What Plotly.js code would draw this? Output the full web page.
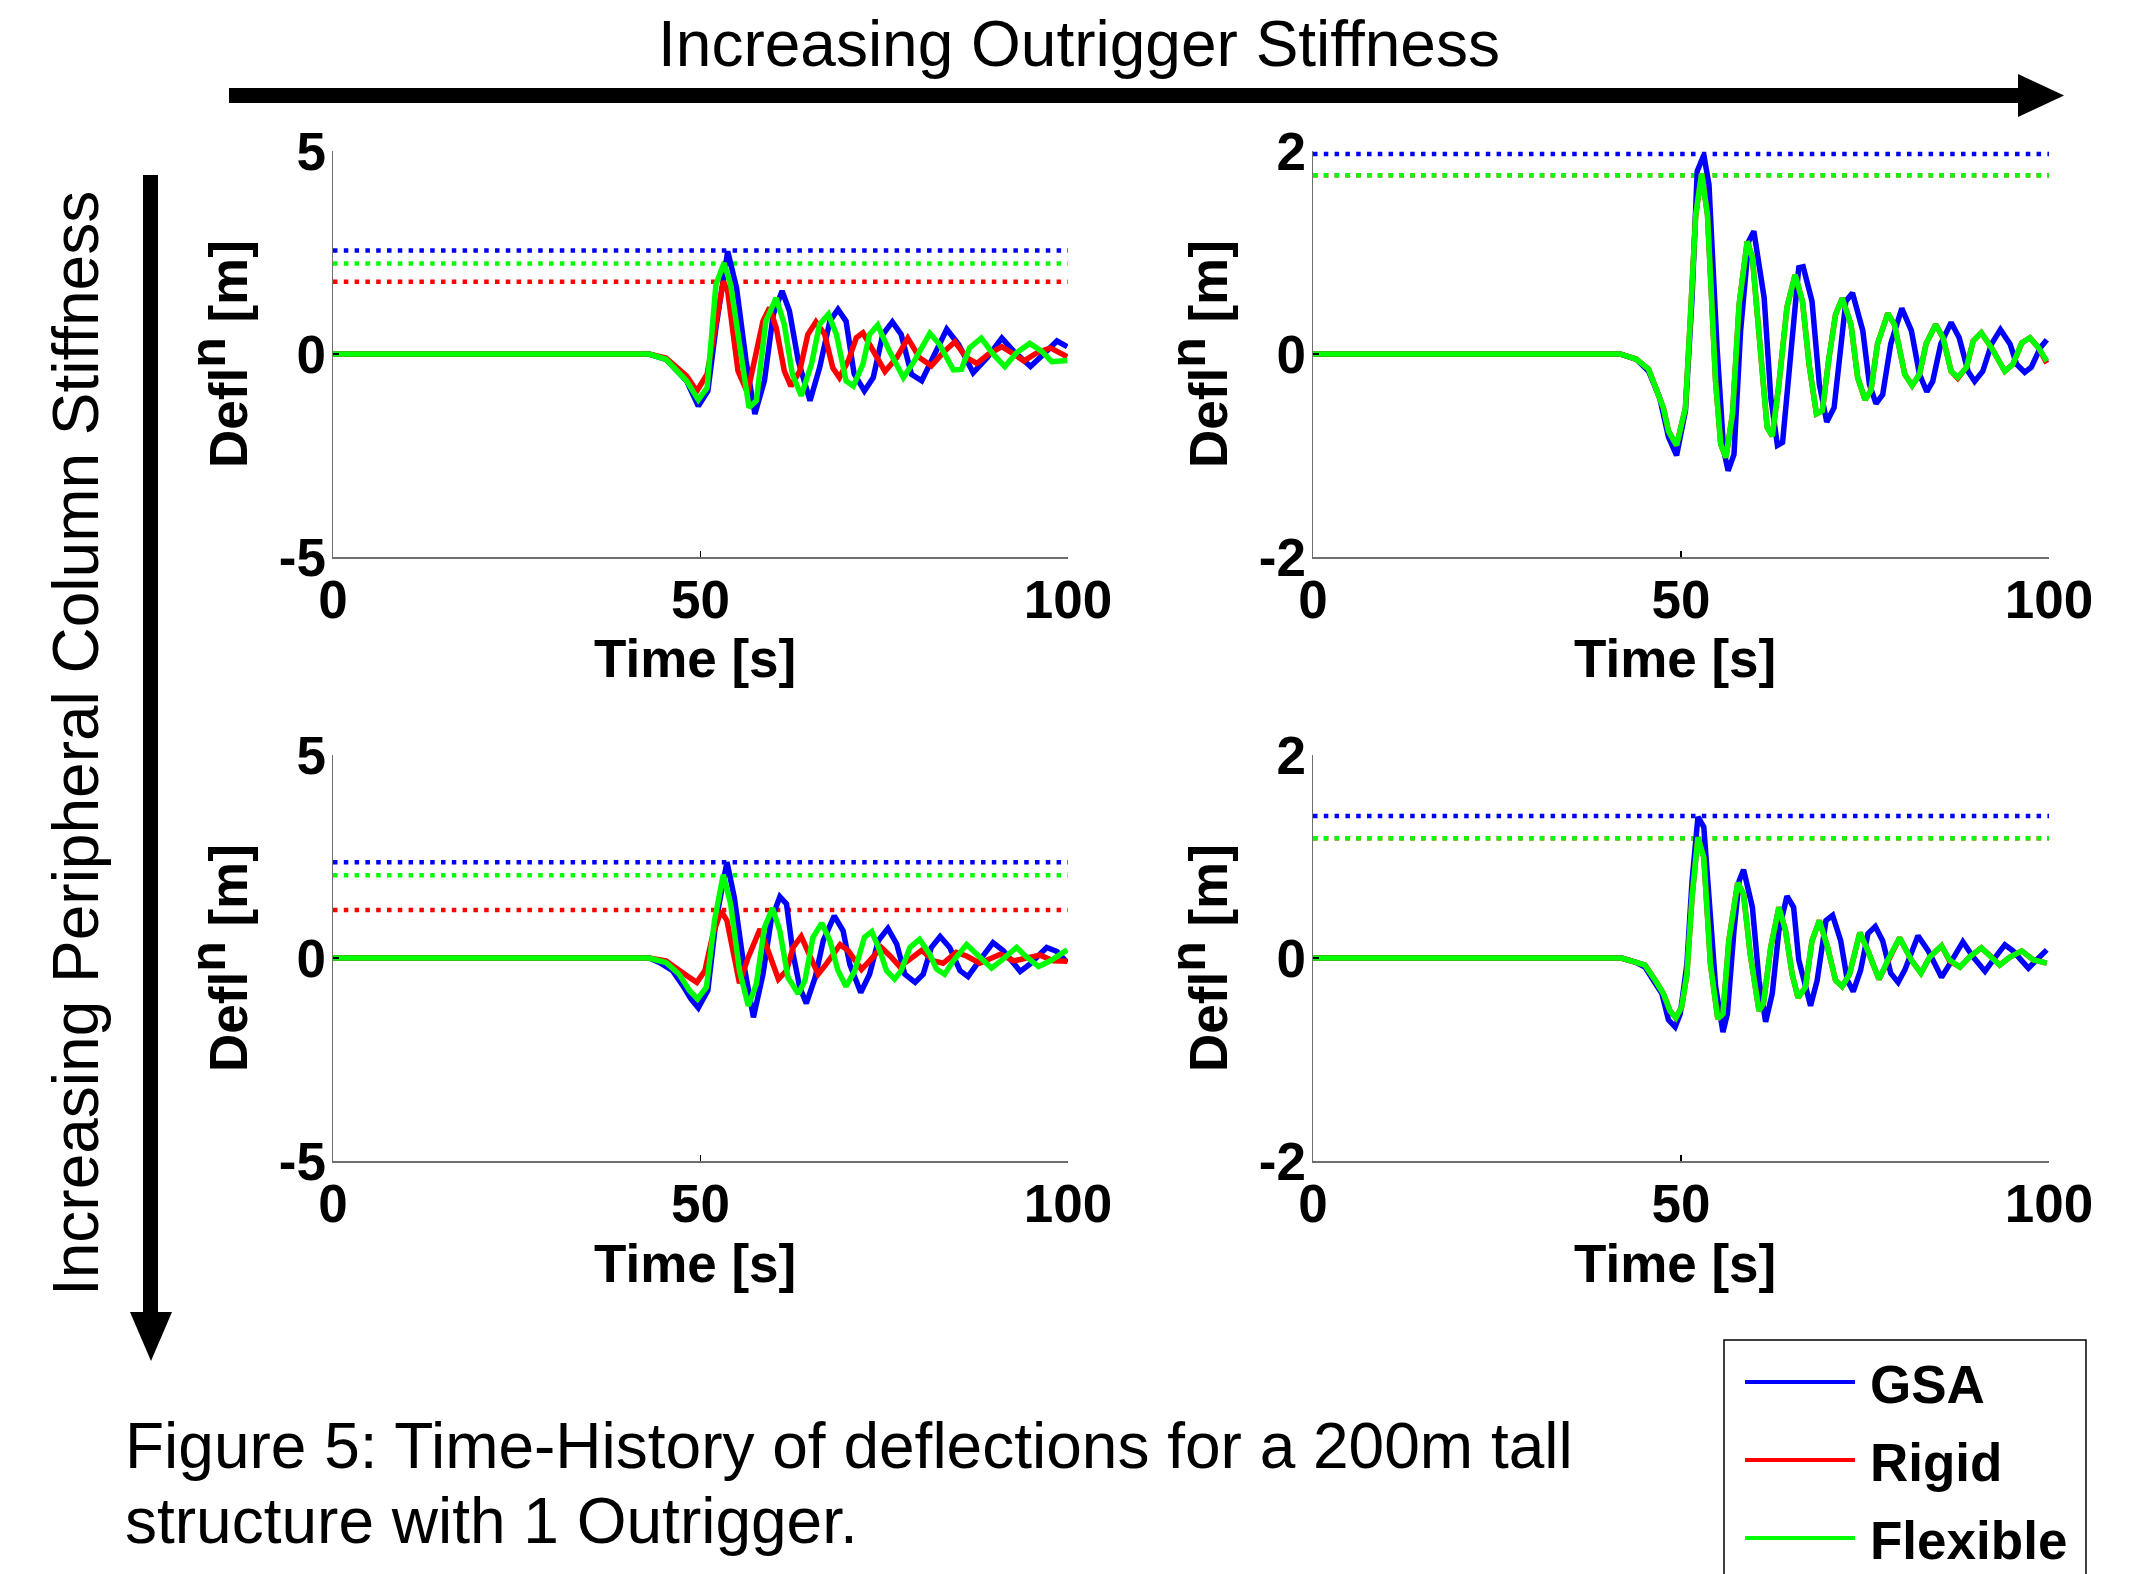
<!DOCTYPE html>
<html><head><meta charset="utf-8">
<script src="https://cdn.plot.ly/plotly-3.0.1.min.js"></script>
<style>html,body{margin:0;padding:0;background:#fff;overflow:hidden;} #chart{width:2139px;height:1574px;}</style>
</head><body><div id="chart"></div>
<script>
// ---------- DATA ----------
const seriesNames = ['GSA', 'Rigid', 'Flexible'];
const seriesColors = ['#0000FF', '#FF0000', '#00FF00'];
const xTickVals = [0, 50, 100];
const xTickText = ['0', '50', '100'];
const yTickValsA = [-5, 0, 5];
const yTickTextA = ['-5', '0', '5'];
const yTickValsB = [-2, 0, 2];
const yTickTextB = ['-2', '0', '2'];
const xTitle = 'Time [s]';
const yTitle = 'Defl<sup><span style="font-size:50px">n</span></sup> [m]';
const topHeading = 'Increasing Outrigger Stiffness';
const sideHeading = 'Increasing Peripheral Column Stiffness';
const captionLines = ['Figure 5: Time-History of deflections for a 200m tall', 'structure with 1 Outrigger.'];

// peak (dotted) levels per panel: [TL, TR, BL, BR]
const peakGsa = [2.55, 1.97, 2.36, 1.40];
const peakRigid = [1.78, 1.76, 1.18, 1.18];
const peakFlex = [2.23, 1.76, 2.04, 1.18];

// Top-left panel
const tGsaTL = [0, 43, 45.3, 48.1, 49.7, 51.0, 52.1, 53.7, 54.9, 56.2, 57.4, 58.7, 59.9, 61.1, 62.1, 63.3, 64.9, 66.2, 67.6, 68.7, 69.8, 70.9, 72.3, 73.5, 74.8, 76.1, 77.3, 78.7, 80.1, 81.7, 83.5, 85.1, 87.1, 89.0, 91.0, 92.6, 94.9, 96.7, 98.5, 99.9];
const dGsaTL = [0, 0, -0.13, -0.66, -1.28, -0.91, 0.65, 2.53, 1.63, -0.17, -1.48, -0.66, 0.98, 1.55, 1.06, -0.17, -1.15, -0.34, 0.81, 1.10, 0.81, -0.49, -0.91, -0.58, 0.48, 0.79, 0.48, -0.50, -0.66, -0.09, 0.61, 0.24, -0.46, -0.09, 0.39, 0.07, -0.31, 0, 0.32, 0.18];
const tRigidTL = [0, 43, 45.3, 48.1, 49.5, 50.9, 52.0, 53.1, 53.7, 55.1, 56.4, 57.6, 58.5, 59.4, 60.3, 61.4, 62.3, 63.5, 64.6, 65.7, 66.9, 68.0, 68.9, 70.1, 71.2, 72.1, 73.5, 75.1, 76.7, 78.2, 79.8, 81.4, 83.0, 84.6, 86.2, 87.6, 89.2, 91.0, 92.6, 94.0, 95.8, 97.6, 99.9];
const dRigidTL = [0, 0, -0.1, -0.54, -0.91, -0.5, 0.65, 1.79, 1.55, -0.42, -0.95, 0.07, 0.81, 1.14, 0.65, -0.42, -0.79, -0.42, 0.48, 0.79, 0.48, -0.34, -0.58, -0.17, 0.40, 0.52, 0.07, -0.43, -0.09, 0.39, -0.09, -0.29, 0.03, 0.30, -0.09, -0.23, 0, 0.18, 0, -0.17, 0.03, 0.15, -0.07];
const tFlexTL = [0, 43, 45.3, 48.1, 49.7, 50.9, 52.1, 53.2, 54.1, 55.3, 56.6, 57.6, 58.9, 60.3, 61.4, 62.5, 63.7, 65.1, 66.2, 67.4, 68.5, 69.8, 70.8, 72.1, 73.0, 74.1, 75.7, 77.6, 79.1, 81.2, 82.5, 84.4, 85.5, 86.6, 88.2, 89.8, 91.4, 93.0, 94.8, 96.4, 97.8, 99.9];
const dFlexTL = [0, 0, -0.13, -0.66, -1.13, -0.83, 1.71, 2.24, 1.71, 0.15, -1.32, -1.15, 0.81, 1.38, 0.73, -0.50, -1.03, -0.25, 0.73, 0.98, 0.48, -0.66, -0.79, -0.25, 0.48, 0.71, 0.07, -0.58, -0.17, 0.51, 0.24, -0.39, -0.38, 0.15, 0.39, 0, -0.31, 0.03, 0.26, 0.07, -0.19, -0.16];

// Top-right panel
const tGsaTR = [0, 41.7, 43.9, 45.6, 47.1, 48.3, 49.4, 50.6, 51.5, 52.2, 53.1, 53.8, 54.9, 55.8, 56.4, 57.2, 58.1, 59.2, 59.9, 61.3, 62.2, 63.1, 63.8, 64.9, 66.0, 66.6, 67.8, 68.8, 69.8, 70.8, 71.5, 72.4, 73.3, 74.7, 75.6, 76.5, 77.4, 78.5, 80.0, 81.3, 82.4, 83.4, 84.2, 85.3, 86.7, 87.8, 89.0, 89.9, 91.0, 92.2, 93.4, 94.7, 95.6, 96.7, 97.6, 98.8, 99.7];
const dGsaTR = [0, 0, -0.05, -0.17, -0.43, -0.82, -1.0, -0.56, 0.55, 1.80, 1.96, 1.67, 0.06, -0.95, -1.15, -0.99, 0.23, 1.11, 1.21, 0.55, -0.43, -0.90, -0.87, 0.06, 0.85, 0.86, 0.52, -0.30, -0.67, -0.53, -0.04, 0.52, 0.60, 0.23, -0.30, -0.49, -0.40, 0.10, 0.45, 0.23, -0.20, -0.37, -0.27, 0.10, 0.31, 0.16, -0.17, -0.27, -0.17, 0.10, 0.24, 0.10, -0.10, -0.18, -0.13, 0.06, 0.14];
const tRigidTR = [0, 41.7, 43.9, 45.6, 47.6, 48.3, 49.4, 50.6, 51.3, 52.0, 52.8, 53.6, 54.7, 55.4, 56.1, 57.0, 57.9, 59.0, 59.7, 60.8, 61.7, 62.4, 63.3, 64.4, 65.5, 66.5, 67.4, 68.4, 69.2, 70.1, 71.0, 71.9, 73.1, 74.0, 75.0, 75.8, 76.7, 78.1, 79.0, 80.4, 81.4, 82.4, 83.3, 84.6, 85.6, 86.7, 87.6, 88.8, 89.7, 90.8, 92.2, 94.0, 95.1, 96.3, 97.4, 98.6, 99.7];
const dRigidTR = [0, 0, -0.05, -0.15, -0.53, -0.76, -0.90, -0.53, 0.39, 1.37, 1.78, 1.37, -0.27, -0.89, -1.02, -0.59, 0.49, 1.11, 0.95, 0.06, -0.72, -0.81, -0.30, 0.46, 0.78, 0.52, -0.10, -0.59, -0.56, -0.04, 0.39, 0.55, 0.29, -0.23, -0.45, -0.36, 0.10, 0.40, 0.29, -0.20, -0.31, -0.20, 0.10, 0.29, 0.16, -0.17, -0.24, -0.13, 0.13, 0.21, 0.06, -0.17, -0.10, 0.11, 0.16, 0.06, -0.09];
const tFlexTR = [0, 41.7, 43.9, 45.6, 47.6, 48.3, 49.4, 50.6, 51.3, 52.0, 52.8, 53.6, 54.7, 55.4, 56.1, 57.0, 57.9, 59.0, 59.7, 60.8, 61.7, 62.4, 63.3, 64.4, 65.5, 66.5, 67.4, 68.4, 69.2, 70.1, 71.0, 71.9, 73.1, 74.0, 75.0, 75.8, 76.7, 78.1, 79.0, 80.4, 81.4, 82.4, 83.3, 84.6, 85.6, 86.7, 87.6, 88.8, 89.7, 90.8, 92.2, 94.0, 95.1, 96.3, 97.4, 98.6, 99.7];
const dFlexTR = [0, 0, -0.05, -0.15, -0.53, -0.76, -0.90, -0.53, 0.39, 1.37, 1.78, 1.37, -0.27, -0.89, -1.02, -0.59, 0.49, 1.11, 0.95, 0.06, -0.72, -0.81, -0.30, 0.46, 0.78, 0.52, -0.10, -0.59, -0.56, -0.04, 0.39, 0.55, 0.29, -0.23, -0.45, -0.36, 0.10, 0.40, 0.29, -0.20, -0.31, -0.20, 0.10, 0.29, 0.16, -0.17, -0.23, -0.13, 0.13, 0.21, 0.06, -0.17, -0.10, 0.11, 0.16, 0.06, -0.07];

// Bottom-left panel
const tGsaBL = [0, 43, 44.4, 46.2, 47.6, 48.7, 49.7, 51.0, 52.1, 53.6, 54.6, 55.8, 57.2, 58.5, 59.6, 60.8, 61.7, 62.6, 63.5, 64.4, 65.6, 66.7, 68.2, 69.4, 70.3, 71.8, 73.0, 74.2, 75.5, 76.7, 77.8, 79.2, 80.3, 81.4, 82.6, 83.9, 85.3, 86.4, 87.6, 89.8, 91.2, 93.5, 94.8, 97.1, 98.5, 99.9];
const dGsaBL = [0, 0, -0.11, -0.31, -0.68, -1.01, -1.23, -0.80, 0.92, 2.36, 1.49, -0.07, -1.46, -0.40, 0.92, 1.51, 1.33, 0.10, -0.72, -1.12, -0.48, 0.43, 1.04, 0.67, -0.15, -0.85, -0.40, 0.43, 0.73, 0.34, -0.40, -0.60, -0.40, 0.26, 0.53, 0.26, -0.31, -0.46, -0.15, 0.38, 0.18, -0.33, -0.15, 0.26, 0.16, -0.11];
const tRigidBL = [0, 43, 45.3, 46.7, 48.1, 49.5, 50.6, 51.7, 52.8, 53.6, 54.5, 55.3, 56.5, 58.1, 59.2, 60.6, 61.7, 62.6, 63.7, 64.6, 66.0, 67.1, 69.0, 70.1, 71.9, 73.0, 74.6, 75.8, 77.1, 78.2, 80.1, 81.7, 83.0, 84.8, 86.2, 88.0, 90.8, 92.6, 95.3, 96.2, 98.0, 99.9];
const dRigidBL = [0, 0, -0.07, -0.23, -0.43, -0.60, -0.31, 0.59, 1.16, 0.92, 0.02, -0.62, 0.02, 0.71, 0.18, -0.52, -0.31, 0.26, 0.53, 0.18, -0.40, -0.15, 0.33, 0.18, -0.28, -0.07, 0.26, 0.05, -0.21, -0.07, 0.19, -0.07, -0.13, 0.14, 0.05, -0.13, 0.09, -0.07, 0.05, 0.07, -0.07, -0.08];
const tFlexBL = [0, 43, 45.3, 47.1, 48.5, 49.6, 50.8, 51.9, 53.1, 54.1, 55.3, 56.5, 57.6, 58.7, 59.8, 60.8, 61.9, 63.3, 64.2, 65.3, 66.5, 67.6, 68.7, 69.8, 71.0, 72.3, 73.3, 74.4, 75.3, 76.4, 77.3, 78.5, 79.8, 81.2, 82.1, 83.2, 84.4, 86.2, 87.6, 89.6, 91.2, 93.0, 94.4, 96.0, 97.6, 99.9];
const dFlexBL = [0, 0, -0.11, -0.40, -0.80, -1.01, -0.72, 0.92, 2.05, 1.33, -0.31, -1.18, -0.64, 0.75, 1.23, 0.67, -0.48, -0.88, -0.56, 0.51, 0.86, 0.43, -0.31, -0.70, -0.31, 0.51, 0.65, 0.18, -0.31, -0.52, -0.31, 0.26, 0.46, 0.09, -0.27, -0.40, -0.07, 0.33, 0.09, -0.25, -0.02, 0.26, 0.02, -0.21, -0.07, 0.20];

// Bottom-right panel
const tGsaBR = [0, 41.9, 43.8, 45.1, 46.5, 47.4, 48.3, 49.2, 49.9, 50.8, 51.5, 52.3, 53.1, 53.8, 54.7, 55.7, 56.3, 57.2, 57.9, 58.5, 59.7, 60.6, 61.5, 62.4, 63.3, 64.4, 65.3, 66.0, 67.6, 68.5, 69.7, 70.6, 71.7, 72.6, 73.4, 74.4, 75.4, 76.4, 77.4, 78.5, 79.5, 80.4, 82.2, 83.6, 85.4, 86.5, 88.3, 89.7, 91.3, 92.4, 94.0, 95.1, 97.2, 98.3, 99.7];
const dGsaBR = [0, 0, -0.04, -0.09, -0.25, -0.35, -0.61, -0.68, -0.55, -0.06, 0.76, 1.39, 1.29, 0.60, -0.28, -0.73, -0.55, 0.27, 0.76, 0.87, 0.50, -0.22, -0.63, -0.35, 0.27, 0.61, 0.50, -0.02, -0.47, -0.22, 0.37, 0.42, 0.17, -0.22, -0.33, -0.12, 0.24, 0.31, 0.17, -0.15, -0.24, -0.12, 0.22, 0.07, -0.19, -0.06, 0.16, 0.01, -0.13, -0.02, 0.13, 0.07, -0.10, -0.02, 0.08];
const tRigidBR = [0, 41.9, 43.8, 45.1, 46.5, 47.6, 48.5, 49.3, 50.1, 50.8, 51.5, 52.3, 53.1, 54.0, 55.0, 55.7, 56.5, 57.7, 58.5, 59.4, 60.6, 61.2, 62.2, 63.3, 64.2, 65.1, 65.9, 66.9, 67.8, 68.8, 69.9, 71.0, 71.9, 72.9, 74.3, 75.4, 76.9, 78.1, 79.7, 81.3, 82.6, 83.8, 85.4, 86.5, 87.9, 89.2, 90.8, 92.2, 93.3, 94.7, 96.3, 97.9, 99.7];
const dRigidBR = [0, 0, -0.04, -0.07, -0.22, -0.35, -0.52, -0.59, -0.48, -0.16, 0.60, 1.19, 0.99, -0.06, -0.60, -0.55, 0.17, 0.74, 0.63, 0.04, -0.52, -0.45, 0.11, 0.50, 0.27, -0.16, -0.39, -0.29, 0.17, 0.37, 0.11, -0.22, -0.28, -0.16, 0.25, 0.07, -0.21, -0.03, 0.20, -0.02, -0.15, 0.01, 0.12, -0.03, -0.09, 0.01, 0.10, 0.01, -0.07, 0.01, 0.07, -0.02, -0.05];
const tFlexBR = [0, 41.9, 43.8, 45.1, 46.5, 47.6, 48.5, 49.3, 50.1, 50.8, 51.5, 52.3, 53.1, 54.0, 55.0, 55.7, 56.5, 57.7, 58.5, 59.4, 60.6, 61.2, 62.2, 63.3, 64.2, 65.1, 65.9, 66.9, 67.8, 68.8, 69.9, 71.0, 71.9, 72.9, 74.3, 75.4, 76.9, 78.1, 79.7, 81.3, 82.6, 83.8, 85.4, 86.5, 87.9, 89.2, 90.8, 92.2, 93.3, 94.7, 96.3, 97.9, 99.7];
const dFlexBR = [0, 0, -0.04, -0.07, -0.22, -0.35, -0.52, -0.59, -0.48, -0.16, 0.60, 1.19, 0.99, -0.06, -0.60, -0.55, 0.17, 0.74, 0.63, 0.04, -0.52, -0.45, 0.11, 0.50, 0.27, -0.16, -0.39, -0.29, 0.17, 0.37, 0.11, -0.22, -0.28, -0.16, 0.25, 0.07, -0.21, -0.02, 0.20, -0.02, -0.15, 0.01, 0.12, -0.02, -0.09, 0.01, 0.10, 0.01, -0.07, 0.01, 0.07, -0.02, -0.05];

// ---------- BUILD ----------
const W = 2139, H = 1574;
const FONT = 'Liberation Sans, Arial, Helvetica, sans-serif';
const px = v => v / W;
const py = v => 1 - v / H;

const panels = [
  {xa: 'x', ya: 'y', series: [[tGsaTL, dGsaTL], [tRigidTL, dRigidTL], [tFlexTL, dFlexTL]], p: 0},
  {xa: 'x2', ya: 'y2', series: [[tGsaTR, dGsaTR], [tRigidTR, dRigidTR], [tFlexTR, dFlexTR]], p: 1},
  {xa: 'x3', ya: 'y3', series: [[tGsaBL, dGsaBL], [tRigidBL, dRigidBL], [tFlexBL, dFlexBL]], p: 2},
  {xa: 'x4', ya: 'y4', series: [[tGsaBR, dGsaBR], [tRigidBR, dRigidBR], [tFlexBR, dFlexBR]], p: 3}
];

const traces = [];
panels.forEach(pn => {
  const peaks = [peakGsa[pn.p], peakRigid[pn.p], peakFlex[pn.p]];
  [0, 1, 2].forEach(i => {
    traces.push({
      type: 'scatter', mode: 'lines', x: [xTickVals[0], xTickVals[2]], y: [peaks[i], peaks[i]],
      xaxis: pn.xa, yaxis: pn.ya, showlegend: false, hoverinfo: 'skip',
      line: {color: seriesColors[i], width: 4.5, dash: '4.5px,6.3px'}
    });
  });
  [0, 1, 2].forEach(i => {
    traces.push({
      type: 'scatter', mode: 'lines', name: seriesNames[i],
      x: pn.series[i][0], y: pn.series[i][1],
      xaxis: pn.xa, yaxis: pn.ya, showlegend: false,
      line: {color: seriesColors[i], width: 5.5}
    });
  });
});

const tickFont = {family: FONT, size: 53, color: '#000', weight: 'bold'};
function xAxis(dom, anchor) {
  return {domain: dom, anchor: anchor, range: [0, 100], tickvals: xTickVals, ticktext: xTickText,
    showline: true, linecolor: '#6e6e6e', linewidth: 1.5, mirror: false, showgrid: false, zeroline: false,
    ticks: 'inside', ticklen: 6, tickwidth: 1.5, tickcolor: '#000', tickfont: tickFont, fixedrange: true,
    ticklabelstandoff: -4};
}
function yAxis(dom, anchor, rng, tv, tt) {
  return {domain: dom, anchor: anchor, range: rng, tickvals: tv, ticktext: tt,
    showline: true, linecolor: '#6e6e6e', linewidth: 1.5, mirror: false, showgrid: false, zeroline: false,
    ticks: 'inside', ticklen: 6, tickwidth: 1.5, tickcolor: '#000', tickfont: tickFont, fixedrange: true,
    ticklabelstandoff: -5};
}

const xL = [px(333), px(1068)], xR = [px(1313), px(2049)];
const yT = [py(557), py(151)], yB = [py(1161), py(755)];

const boldFont = {family: FONT, size: 53, color: '#000', weight: 'bold'};
const regFont = {family: FONT, size: 64, color: '#000'};
const annotations = [];
// axis titles
[[695, 658], [1675, 658], [695, 1263], [1675, 1263]].forEach(p => {
  annotations.push({text: xTitle, xref: 'paper', yref: 'paper', x: px(p[0]), y: py(p[1]),
    xanchor: 'center', yanchor: 'middle', showarrow: false, font: boldFont});
});
[[219, 354], [1199, 354], [219, 958], [1199, 958]].forEach(p => {
  annotations.push({text: yTitle, xref: 'paper', yref: 'paper', x: px(p[0]), y: py(p[1]),
    xanchor: 'center', yanchor: 'middle', textangle: -90, showarrow: false, font: boldFont});
});
annotations.push({text: topHeading, xref: 'paper', yref: 'paper', x: px(1079), y: py(44),
  xanchor: 'center', yanchor: 'middle', showarrow: false, font: regFont});
annotations.push({text: sideHeading, xref: 'paper', yref: 'paper', x: px(76), y: py(744),
  xanchor: 'center', yanchor: 'middle', textangle: -90, showarrow: false, font: regFont});
annotations.push({text: captionLines[0], xref: 'paper', yref: 'paper', x: px(123), y: py(1446),
  xanchor: 'left', yanchor: 'middle', showarrow: false, font: regFont});
annotations.push({text: captionLines[1], xref: 'paper', yref: 'paper', x: px(123), y: py(1521),
  xanchor: 'left', yanchor: 'middle', showarrow: false, font: regFont});

// legend (drawn)
const legendRows = [1382, 1460, 1538];
const shapes = [];
shapes.push({type: 'rect', xref: 'paper', yref: 'paper', x0: px(1724), x1: px(2086), y0: py(1600), y1: py(1340),
  line: {color: '#000', width: 1.5}, fillcolor: '#fff', layer: 'above'});
seriesNames.forEach((nm, i) => {
  shapes.push({type: 'line', xref: 'paper', yref: 'paper', x0: px(1745), x1: px(1855), y0: py(legendRows[i]), y1: py(legendRows[i]),
    line: {color: seriesColors[i], width: 4}, layer: 'above'});
  annotations.push({text: nm, xref: 'paper', yref: 'paper', x: px(1868), y: py(legendRows[i] + 2),
    xanchor: 'left', yanchor: 'middle', showarrow: false, font: boldFont});
});

// arrows
shapes.push({type: 'rect', xref: 'paper', yref: 'paper', x0: px(229), x1: px(2022), y0: py(103), y1: py(88),
  line: {width: 0}, fillcolor: '#000'});
shapes.push({type: 'path', xref: 'paper', yref: 'paper',
  path: `M ${px(2018)} ${py(74)} L ${px(2064)} ${py(95.5)} L ${px(2018)} ${py(117)} Z`,
  line: {width: 0}, fillcolor: '#000'});
shapes.push({type: 'rect', xref: 'paper', yref: 'paper', x0: px(143), x1: px(158), y0: py(1316), y1: py(175),
  line: {width: 0}, fillcolor: '#000'});
shapes.push({type: 'path', xref: 'paper', yref: 'paper',
  path: `M ${px(130)} ${py(1312)} L ${px(151)} ${py(1361)} L ${px(172)} ${py(1312)} Z`,
  line: {width: 0}, fillcolor: '#000'});

const layout = {
  width: W, height: H, margin: {l: 0, r: 0, t: 0, b: 0},
  paper_bgcolor: '#fff', plot_bgcolor: 'rgba(0,0,0,0)', showlegend: false,
  font: {family: FONT, color: '#000'},
  xaxis: xAxis(xL, 'y'), yaxis: yAxis(yT, 'x', [-5, 5], yTickValsA, yTickTextA),
  xaxis2: xAxis(xR, 'y2'), yaxis2: yAxis(yT, 'x2', [-2, 2], yTickValsB, yTickTextB),
  xaxis3: xAxis(xL, 'y3'), yaxis3: yAxis(yB, 'x3', [-5, 5], yTickValsA, yTickTextA),
  xaxis4: xAxis(xR, 'y4'), yaxis4: yAxis(yB, 'x4', [-2, 2], yTickValsB, yTickTextB),
  annotations: annotations, shapes: shapes
};

Plotly.newPlot('chart', traces, layout, {staticPlot: true, displayModeBar: false});
</script></body></html>
